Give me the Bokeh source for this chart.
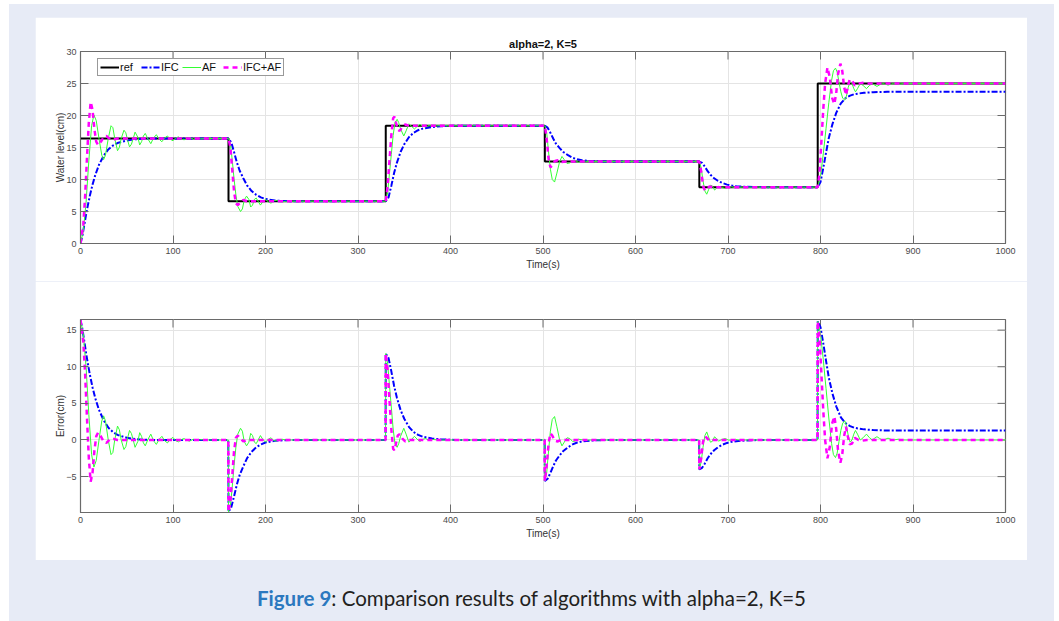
import numpy as np
from bokeh.plotting import figure
from bokeh.models import Range1d, FixedTicker, Legend, LegendItem, Div
from bokeh.layouts import column
from bokeh.embed import file_html
from bokeh.resources import INLINE

# ---------------- data ----------------
STEP_T = [0, 160, 330, 502, 669, 797, 1000]
STEP_V = [16.4, 6.6, 18.4, 12.8, 8.8, 25.0, 25.0]

IFC_T = [0, 2, 4, 6, 8, 10, 13, 16, 20, 25, 30, 35, 40, 50, 60, 75, 159.8, 160,
         163, 166, 169, 172, 176, 180, 185, 190, 195, 200, 210, 220, 235, 329.8, 330,
         333, 336, 339, 342, 346, 350, 355, 360, 365, 370, 380, 390, 405, 501.8, 502,
         505, 508, 511, 514, 518, 522, 527, 532, 537, 542, 552, 562, 577, 668.8, 669,
         672, 675, 678, 681, 685, 689, 694, 699, 704, 709, 719, 729, 744, 796.8, 797,
         800, 803, 806, 809, 813, 817, 822, 827, 832, 837, 847, 857, 872, 1000]
IFC_V = [0, 1.2, 2.8, 4.5, 6.0, 7.4, 9.2, 10.7, 12.3, 13.7, 14.7, 15.3, 15.7, 16.1, 16.3, 16.4, 16.4, 16.4,
         15.8, 14.3, 12.7, 11.4, 10.2, 9.1, 8.2, 7.6, 7.2, 6.95, 6.72, 6.63, 6.6, 6.6, 6.6,
         7.2, 9.0, 11.0, 12.6, 14.3, 15.5, 16.6, 17.3, 17.7, 17.95, 18.2, 18.32, 18.4, 18.4, 18.4,
         18.1, 17.3, 16.4, 15.6, 14.9, 14.3, 13.8, 13.4, 13.15, 13.0, 12.87, 12.82, 12.8, 12.8, 12.8,
         12.6, 12.0, 11.3, 10.75, 10.2, 9.8, 9.45, 9.2, 9.05, 8.96, 8.86, 8.82, 8.8, 8.8, 8.8,
         9.6, 11.8, 14.2, 16.5, 18.7, 20.4, 21.9, 22.7, 23.1, 23.35, 23.55, 23.65, 23.7, 23.7]

AF_T = [0, 3, 6, 9, 12, 14.5, 17, 20, 23, 25, 27, 30, 33, 35, 37, 40, 42, 44, 47, 49, 51, 53, 55, 57,
        59, 62, 64, 66, 68, 70, 73, 76, 79, 82, 85, 88, 91, 94, 97, 100, 103, 106, 109, 112, 115,
        118, 122, 126, 130, 136, 159.8, 160,
        162, 164, 166, 168, 170, 173, 175, 177, 179.5, 182, 184, 186, 188, 190, 192, 194.5, 197,
        200, 203, 206, 209, 212, 215, 218, 222, 329.8, 330,
        332, 334, 336, 338, 340, 342.3, 344, 346, 349.5, 352, 355, 358, 361, 364, 367, 370, 373,
        377, 381, 386, 501.8, 502,
        504, 506, 508, 510, 512.5, 515, 518, 520.5, 523, 526, 529, 532, 535, 538, 542, 546, 550,
        668.8, 669,
        671, 673, 675, 677, 679, 681, 683, 685.5, 688, 690, 693, 697, 700, 704, 708, 712, 796.8, 797,
        800, 803, 806, 809, 812, 814, 816.2, 818, 820, 822, 824, 826.3, 828, 830, 832, 834, 836,
        837.8, 840, 843, 846, 849.7, 853, 856, 858, 861, 864, 867, 870, 873, 876, 879, 884, 890, 1000]
AF_V = [0, 1.9, 6.4, 12.9, 18.4, 20.1, 19.2, 16.4, 13.8, 13.1, 13.8, 16.4, 18.4, 18.1, 16.4, 14.5, 15.0,
        16.4, 17.7, 17.3, 16.1, 15.1, 15.5, 16.4,
        17.4, 16.6, 15.4, 15.9, 16.8, 17.2, 16.3, 15.6, 16.5, 17.0, 16.3, 15.9, 16.5, 16.8, 16.3,
        16.05, 16.5, 16.65, 16.35, 16.2, 16.45,
        16.55, 16.3, 16.48, 16.35, 16.4, 16.4, 16.4,
        15.6, 13.1, 10.1, 7.6, 5.8, 5.0, 5.4, 6.8, 7.4, 6.9, 5.7, 6.0, 6.9, 7.1, 6.6, 6.0, 6.5,
        6.9, 6.5, 6.3, 6.7, 6.72, 6.55, 6.5, 6.6, 6.6, 6.6,
        7.9, 10.9, 13.9, 16.9, 18.9, 19.4, 18.9, 17.9, 16.8, 17.6, 18.7, 18.3, 17.9, 18.3, 18.6, 18.3,
        18.2, 18.45, 18.32, 18.4, 18.4, 18.4,
        17.3, 14.3, 11.6, 10.0, 9.6, 11.0, 12.8, 13.6, 13.1, 12.5, 12.6, 13.0, 12.95, 12.7, 12.75,
        12.85, 12.8, 12.8, 12.8,
        11.8, 9.8, 8.2, 7.7, 8.4, 9.1, 9.0, 8.35, 8.7, 8.95, 8.75, 8.6, 8.8, 8.85, 8.72, 8.8, 8.8, 8.8,
        10.5, 14.0, 18.0, 22.0, 25.5, 27.0, 27.4, 26.8, 25.2, 23.7, 22.7, 22.4, 23.0, 24.4, 25.3,
        25.0, 24.2, 23.7, 24.2, 25.0, 24.7, 24.2, 24.7, 25.0, 24.8, 24.55, 24.8, 25.0, 24.9, 24.75,
        24.9, 25.0, 24.9, 25.0, 25.0]

IA_T = [0, 3, 5, 7, 9, 11, 13, 15, 17, 19, 22, 25, 28, 32, 36, 40, 159.8, 160,
        162, 164, 166, 168, 170, 173, 176, 180, 329.8, 330,
        332, 334, 336, 338, 339.5, 341, 343, 345, 348, 351, 355, 501.8, 502,
        504, 506, 508, 510, 513, 516, 520, 525, 668.8, 669,
        671, 673, 675, 677, 680, 684, 796.8, 797,
        799, 801, 803, 805, 807.5, 810, 812.5, 815, 817, 819, 821.5, 823.5, 825.5, 827.5, 829.5,
        831.5, 834, 837, 841, 845, 850, 1000]
IA_V = [0, 2.9, 7.4, 13.4, 18.9, 22.1, 20.9, 17.9, 15.9, 15.4, 15.9, 16.6, 16.8, 16.3, 16.25, 16.4, 16.4, 16.4,
        15.1, 11.6, 8.1, 6.3, 6.0, 6.4, 6.8, 6.6, 6.6, 6.6,
        8.9, 12.9, 16.9, 19.6, 19.8, 18.9, 17.8, 17.6, 18.2, 18.6, 18.4, 18.4, 18.4,
        16.3, 13.3, 11.9, 12.2, 12.9, 13.0, 12.75, 12.8, 12.8, 12.8,
        11.3, 9.0, 8.3, 8.5, 8.9, 8.8, 8.8, 8.8,
        11.0, 16.0, 21.0, 25.0, 27.5, 26.0, 22.8, 21.8, 23.5, 26.5, 28.1, 27.0, 24.5, 23.2, 24.5,
        25.6, 25.5, 24.7, 25.0, 25.1, 25.0, 25.0]

X_TICKS = [0, 100, 200, 300, 400, 500, 600, 700, 800, 900, 1000]
Y1_TICKS = [0, 5, 10, 15, 20, 25, 30]
Y2_TICKS = [-5, 0, 5, 10, 15]
X_RANGE = (0, 1000)
Y1_RANGE = (0, 30)
Y2_RANGE = (-9.9, 16.45)

TITLE = "alpha=2, K=5"
XLABEL = "Time(s)"
Y1LABEL = "Water level(cm)"
Y2LABEL = "Error(cm)"
NAMES = ["ref", "IFC", "AF", "IFC+AF"]


def ref_at(t):
    idx = np.searchsorted(np.array(STEP_T), np.array(t), side="right") - 1
    idx = np.clip(idx, 0, len(STEP_V) - 1)
    return np.array(STEP_V)[idx]


def err(t, v):
    return list(ref_at(t) - np.array(v))


FONT = "Liberation Sans"
AX_COL = "#6a6a6a"
TXT_COL = "#4a4a4a"
GRID_COL = "#e4e4e4"
LAV = "#e7ebf6"

C_REF = "#000000"
C_IFC = "#0000ff"
C_AF = "#33ff33"
C_IA = "#ff00ff"


def make_fig(h, yr, yticks, ylabel, bt, bb):
    p = figure(width=992, height=h, x_range=Range1d(*X_RANGE), y_range=Range1d(*yr),
               output_backend="svg", toolbar_location=None,
               min_border_left=45, min_border_right=22, min_border_top=bt, min_border_bottom=bb,
               background_fill_color="white", border_fill_color="white",
               outline_line_color=AX_COL, outline_line_width=1.2)
    p.xaxis.ticker = FixedTicker(ticks=X_TICKS)
    p.yaxis.ticker = FixedTicker(ticks=yticks)
    for ax in (p.xaxis[0], p.yaxis[0]):
        ax.major_tick_in = 8
        ax.major_tick_out = 0
        ax.minor_tick_line_color = None
        ax.axis_line_color = AX_COL
        ax.major_tick_line_color = AX_COL
        ax.major_label_text_font = FONT
        ax.major_label_text_font_size = "9px"
        ax.major_label_text_color = TXT_COL
        ax.axis_label_text_font = FONT
        ax.axis_label_text_font_size = "10px"
        ax.axis_label_text_font_style = "normal"
        ax.axis_label_text_color = "#333333"
    p.xaxis.major_label_standoff = 4
    p.yaxis.major_label_standoff = 4
    p.xaxis.axis_label = XLABEL
    p.xaxis.axis_label_standoff = 2
    p.yaxis.axis_label = ylabel
    p.yaxis.axis_label_standoff = -3
    p.xgrid.grid_line_color = GRID_COL
    p.ygrid.grid_line_color = GRID_COL
    p.xgrid.ticker = FixedTicker(ticks=X_TICKS)
    p.ygrid.ticker = FixedTicker(ticks=yticks)
    # inward ticks on the top and right edges of the box (clipped to the frame)
    p.scatter(X_TICKS, [yr[1]] * len(X_TICKS), marker="dash", angle=np.pi / 2, size=16,
              line_color=AX_COL, line_width=1)
    p.scatter([X_RANGE[1]] * len(yticks), yticks, marker="dash", size=16,
              line_color=AX_COL, line_width=1)
    return p


# ---------------- top figure ----------------
p1 = make_fig(264, Y1_RANGE, Y1_TICKS, Y1LABEL, 34, 38)
p1.title.text = TITLE
p1.title.align = "center"
p1.title.text_font = FONT
p1.title.text_font_size = "11px"
p1.title.text_font_style = "bold"
p1.title.text_color = "#111111"
p1.title.standoff = 4

r_ref = p1.step(STEP_T, STEP_V, mode="after", line_color=C_REF, line_width=2)
r_ifc = p1.line(IFC_T, IFC_V, line_color=C_IFC, line_width=2, line_dash="6 2 2 2")
r_af = p1.line(AF_T, AF_V, line_color=C_AF, line_width=1)
r_ia = p1.line(IA_T, IA_V, line_color=C_IA, line_width=2.5, line_dash="5 4")

legend = Legend(items=[LegendItem(label=NAMES[0], renderers=[r_ref]),
                       LegendItem(label=NAMES[1], renderers=[r_ifc]),
                       LegendItem(label=NAMES[2], renderers=[r_af]),
                       LegendItem(label=NAMES[3], renderers=[r_ia])],
                orientation="horizontal", location=(17, 167),
                label_text_font=FONT, label_text_font_size="11px", label_text_color="#111111",
                glyph_width=19, glyph_height=10, label_standoff=1, spacing=1, padding=2,
                margin=0, border_line_color="#333333", border_line_width=1,
                background_fill_color="white", background_fill_alpha=1, label_height=12)
p1.add_layout(legend, "center")

# ---------------- bottom figure ----------------
p2 = make_fig(279, Y2_RANGE, Y2_TICKS, Y2LABEL, 38, 48)
p2.line(IFC_T, err(IFC_T, IFC_V), line_color=C_IFC, line_width=2, line_dash="6 2 2 2")
p2.line(AF_T, err(AF_T, AF_V), line_color=C_AF, line_width=1)
p2.line(IA_T, err(IA_T, IA_V), line_color=C_IA, line_width=2.5, line_dash="5 4")

p1.margin = (13, 0, 0, 26)
p2.margin = (0, 0, 0, 26)

cap = Div(text=("<div style='font-family:Lato, sans-serif;font-size:20.5px;color:#231f20;"
                "text-align:center;width:1045px;padding-top:24px;'>"
                "<span style='color:#2b78bf;font-weight:bold'>Figure 9</span>"
                ": Comparison results of algorithms with alpha=2, K=5</div>"),
          width=1045, height=61, margin=(0, 0, 0, 0))

root = column(p1, p2, cap, width=1045, height=617, margin=(4, 0, 0, 9),
              styles={"background-color": LAV}, spacing=0)

open("out.html", "w").write(file_html(root, INLINE))
